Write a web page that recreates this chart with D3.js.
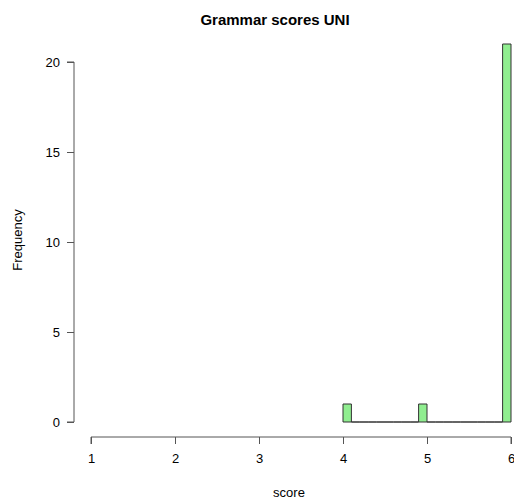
<!DOCTYPE html>
<html><head><meta charset="utf-8">
<script src="https://cdn.jsdelivr.net/npm/d3@7"></script>
<style>body{margin:0;background:#fff}svg{display:block;font-family:"Liberation Sans",Arial,sans-serif}</style>
</head><body><svg id="c" width="514" height="502"></svg>
<script>
const title = "Grammar scores UNI";
const xLabel = "score";
const yLabel = "Frequency";
const binStarts = [4.0,4.1,4.2,4.3,4.4,4.5,4.6,4.7,4.8,4.9,5.0,5.1,5.2,5.3,5.4,5.5,5.6,5.7,5.8,5.9];
const binEnds   = [4.1,4.2,4.3,4.4,4.5,4.6,4.7,4.8,4.9,5.0,5.1,5.2,5.3,5.4,5.5,5.6,5.7,5.8,5.9,6.0];
const counts    = [1,0,0,0,0,0,0,0,0,1,0,0,0,0,0,0,0,0,0,21];
const xTicks = [1,2,3,4,5,6];
const yTicks = [0,5,10,15,20];

const svg = d3.select("#c");
const x = d3.scaleLinear().domain([1,6]).range([91,511]);
const y = d3.scaleLinear().domain([0,20]).range([422,62]);

svg.append("text").attr("x",275).attr("y",25).attr("text-anchor","middle")
  .attr("font-size",15).attr("font-weight","bold").text(title);

const bins = binStarts.map((s,i)=>({s, e:binEnds[i], c:counts[i]}));
svg.append("g").selectAll("path").data(bins).join("path")
  .attr("d",d=>{
    const x0=x(d.s), x1=x(d.e), y0=y(0), y1=y(d.c);
    return `M${x0},${y0}V${y1}H${x1}V${y0}Z`;
  })
  .attr("fill","#90ee90").attr("stroke","#333").attr("stroke-width",1);

const xa = svg.append("g").attr("transform","translate(0,437)")
  .call(d3.axisBottom(x).tickValues(xTicks).tickSize(7).tickPadding(10).tickFormat(d3.format("d")));
const ya = svg.append("g").attr("transform","translate(74,0)")
  .call(d3.axisLeft(y).tickValues(yTicks).tickSize(7).tickPadding(7).tickFormat(d3.format("d")));
[xa,ya].forEach(a=>{
  a.select(".domain").attr("stroke","#555");
  a.selectAll(".tick line").attr("stroke","#555");
  a.selectAll(".tick text").attr("font-size",13).attr("fill","#000").attr("font-family","Liberation Sans, Arial, sans-serif");
});
xa.select(".domain").attr("d", `M${x(1)},7V0H${x(6)}V7`);
ya.select(".domain").attr("d", `M-7,${y(0)}H0V${y(20)}H-7`);

svg.append("text").attr("x",289).attr("y",497).attr("text-anchor","middle")
  .attr("font-size",13).text(xLabel);
svg.append("text").attr("transform","translate(22,240) rotate(-90)").attr("text-anchor","middle")
  .attr("font-size",13).text(yLabel);
</script></body></html>
